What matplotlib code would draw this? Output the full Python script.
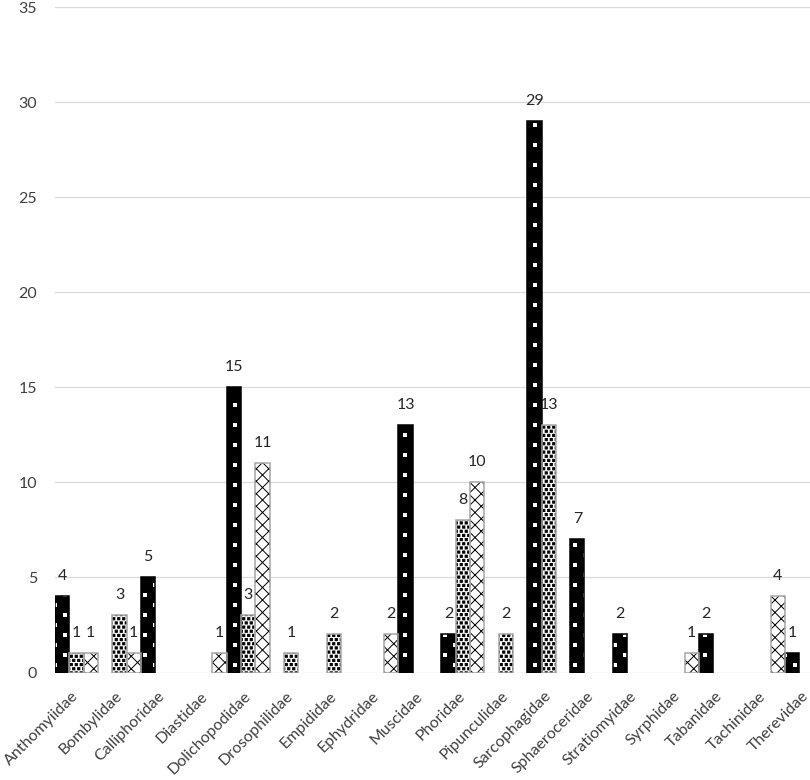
import numpy as np
import matplotlib
matplotlib.use("Agg")
import matplotlib.pyplot as plt
import matplotlib.hatch as mhatch
from matplotlib.path import Path

# ---------------- data ----------------
families = ["Anthomyiidae", "Bombylidae", "Calliphoridae", "Diastidae", "Dolichopodidae",
            "Drosophilidae", "Empididae", "Ephydridae", "Muscidae", "Phoridae",
            "Pipunculidae", "Sarcophagidae", "Sphaeroceridae", "Stratiomyidae",
            "Syrphidae", "Tabanidae", "Tachinidae", "Therevidae"]
series_a = [4, 0, 5, 0, 15, 0, 0, 0, 13, 2, 0, 29, 7, 2, 0, 2, 0, 1]   # black, white dots
series_b = [1, 3, 0, 0, 3, 1, 2, 0, 0, 8, 2, 13, 0, 0, 0, 0, 0, 0]    # white, black dots
series_c = [1, 1, 0, 1, 11, 0, 0, 2, 0, 10, 0, 0, 0, 0, 1, 0, 4, 0]   # cross hatch
y_ticks = [0, 5, 10, 15, 20, 25, 30, 35]

# ---------------- custom hatch patterns ----------------
class _SquareGrid(mhatch.HatchPatternBase):
    char = None
    nrows = 1
    ncols = 1
    side = 0.01

    def __init__(self, hatch, density):
        self.centers = []
        if self.char in hatch:
            for i in range(self.nrows):
                y = (i + 0.5) / self.nrows
                for j in range(self.ncols):
                    x = (j + 0.25 + 0.5 * (i % 2)) / self.ncols
                    self.centers.append((x, y))
        self.num_vertices = 5 * len(self.centers)

    def set_vertices_and_codes(self, vertices, codes):
        h = self.side / 2
        for k, (x, y) in enumerate(self.centers):
            vertices[5 * k:5 * k + 5] = [(x - h, y - h), (x + h, y - h), (x + h, y + h),
                                         (x - h, y + h), (x - h, y - h)]
            codes[5 * k:5 * k + 5] = [Path.MOVETO, Path.LINETO, Path.LINETO,
                                      Path.LINETO, Path.CLOSEPOLY]


class SparseSquares(_SquareGrid):
    char = '*'
    nrows = 10
    ncols = 5
    side = 0.03


class DenseSquares(_SquareGrid):
    char = 'O'
    nrows = 24
    ncols = 20
    side = 0.022


class DiagCross(mhatch.HatchPatternBase):
    step = 1 / 8

    def __init__(self, hatch, density):
        self.on = 'o' in hatch
        n = int(round(2 / self.step)) + 1
        self.n = n
        self.num_vertices = 4 * n if self.on else 0

    def set_vertices_and_codes(self, vertices, codes):
        cs = np.linspace(-1, 1, self.n)
        ds = np.linspace(0, 2, self.n)
        m = self.n
        vertices[0:2 * m:2, 0] = cs
        vertices[0:2 * m:2, 1] = 0.0
        vertices[1:2 * m:2, 0] = cs + 1
        vertices[1:2 * m:2, 1] = 1.0
        vertices[2 * m::2, 0] = ds
        vertices[2 * m::2, 1] = 0.0
        vertices[2 * m + 1::2, 0] = ds - 1
        vertices[2 * m + 1::2, 1] = 1.0
        codes[0::2] = Path.MOVETO
        codes[1::2] = Path.LINETO


mhatch._hatch_types = [mhatch.HorizontalHatch, mhatch.VerticalHatch,
                       mhatch.NorthEastHatch, mhatch.SouthEastHatch,
                       mhatch.SmallFilledCircles, SparseSquares, DenseSquares, DiagCross]

plt.rcParams['hatch.linewidth'] = 0.7
plt.rcParams['font.family'] = ['Lato', 'DejaVu Sans']

# ---------------- figure ----------------
fig = plt.figure(figsize=(8.1, 7.8), dpi=100)
ax = fig.add_axes([55 / 810, 107.5 / 780, 755 / 810, 665.5 / 780])

x = np.arange(len(families))
w = 1 / 3
styles = [
    (series_a, -w, dict(facecolor='black', edgecolor='white', hatch='*'), 'black'),
    (series_b, 0.0, dict(facecolor='white', edgecolor='black', hatch='O'), '#a6a6a6'),
    (series_c, w, dict(facecolor='white', edgecolor='black', hatch='o'), '#a6a6a6'),
]
label_color = '#262626'
for vals, off, fill_kw, edge in styles:
    idx = [i for i, v in enumerate(vals) if v]
    xs = x[idx] + off
    hs = [vals[i] for i in idx]
    ax.bar(xs, hs, width=w, linewidth=0, zorder=2, **fill_kw)
    cont = ax.bar(xs, hs, width=w, fill=False, edgecolor=edge, linewidth=1.1, zorder=3)
    ax.bar_label(cont, labels=[str(h) for h in hs], padding=9.5, fontsize=11.5,
                 color=label_color, zorder=4)

ax.set_xlim(-0.5, -0.5 + 52.76 / 3)
ax.set_ylim(0, 35)
ax.set_yticks(y_ticks)
ax.set_xticks(x)
ax.set_xticklabels(families)
ax.yaxis.grid(True, color='#d9d9d9', linewidth=0.9, zorder=0)
ax.set_axisbelow(True)
for sp in ax.spines.values():
    sp.set_visible(False)
ax.tick_params(axis='y', length=0, pad=13, labelsize=11.5, labelcolor='#404040')
ax.tick_params(axis='x', length=0, pad=15.5, labelsize=11.5, labelcolor='#404040')
for lab in ax.get_xticklabels():
    lab.set_rotation(45)
    lab.set_ha('right')
    lab.set_va('center')
    lab.set_rotation_mode('anchor')

fig.savefig('out.png', dpi=100)
